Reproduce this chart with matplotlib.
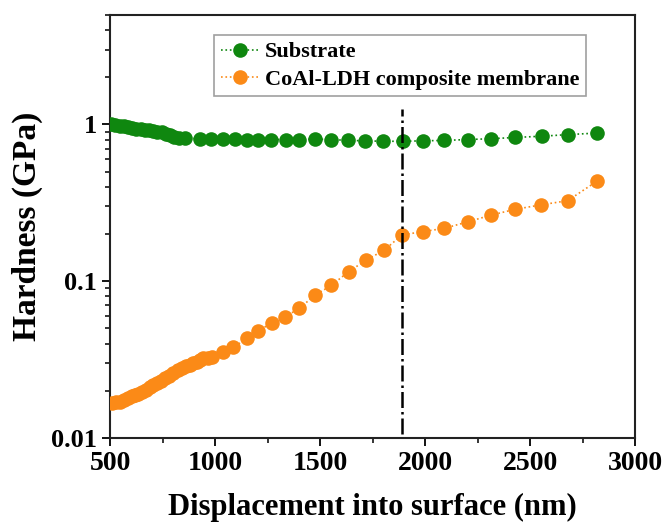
import matplotlib.pyplot as plt
from matplotlib.ticker import MultipleLocator, FixedLocator, FixedFormatter, NullFormatter, LogLocator

plt.rcParams['font.family'] = ['Liberation Serif', 'DejaVu Serif']
plt.rcParams['font.weight'] = 'bold'

# ---- data ----
substrate_x = [505, 525, 545, 565, 585, 605, 625, 645, 665, 685, 705, 725, 745, 765, 785, 805,
               830, 857, 927, 979, 1040, 1093, 1154, 1206, 1267, 1337, 1401, 1476, 1551, 1633,
               1715, 1798, 1894, 1990, 2091, 2205, 2316, 2430, 2555, 2680, 2818]
substrate_h = [1.00, 0.99, 0.98, 0.97, 0.96, 0.95, 0.94, 0.93, 0.92, 0.915, 0.91, 0.90, 0.89, 0.87, 0.85, 0.83,
               0.82, 0.815, 0.81, 0.81, 0.81, 0.805, 0.80, 0.80, 0.80, 0.80, 0.80, 0.805, 0.80, 0.79,
               0.785, 0.78, 0.78, 0.785, 0.79, 0.80, 0.81, 0.825, 0.84, 0.86, 0.88]

membrane_x = [508, 528, 548, 568, 587, 603, 619, 635, 651, 670, 690, 706, 722, 742, 762, 782, 802,
              822, 841, 861, 881, 897, 913, 929, 944, 964, 984, 1040, 1087, 1151, 1206, 1270,
              1333, 1401, 1476, 1554, 1636, 1719, 1806, 1890, 1989, 2090, 2204, 2315, 2428,
              2554, 2679, 2818]
membrane_h = [0.0168, 0.0169, 0.0170, 0.0174, 0.0179, 0.0184, 0.0188, 0.0192, 0.0195, 0.0203, 0.0212,
              0.0218, 0.0223, 0.0231, 0.0240, 0.0250, 0.0261, 0.0271, 0.0281, 0.0287, 0.0292, 0.0299,
              0.0306, 0.0314, 0.0322, 0.0325, 0.0327, 0.0355, 0.0378, 0.0432, 0.0482, 0.0542,
              0.0593, 0.0670, 0.0815, 0.094, 0.115, 0.136, 0.158, 0.197, 0.207, 0.217, 0.239,
              0.264, 0.287, 0.307, 0.326, 0.434]

boundary_x = 1890

green = '#0f870f'
orange = '#fb8a17'

fig = plt.figure(figsize=(6.63, 5.27), dpi=100)
ax = fig.add_axes([0.166, 0.169, 0.792, 0.803])

ax.plot(substrate_x, substrate_h, linestyle=':', linewidth=1.2, color=green, marker='o',
        markersize=10.5, markeredgewidth=0, label='Substrate', zorder=3)
ax.plot(membrane_x, membrane_h, linestyle=':', linewidth=1.2, color=orange, marker='o',
        markersize=10.5, markeredgewidth=0, label='CoAl-LDH composite membrane', zorder=3)
ax.vlines(boundary_x, 0.0106, 1.25, colors='black', linestyles='-.', linewidth=1.8, zorder=4)

ax.set_yscale('log')
ax.set_xlim(500, 3000)
ax.set_ylim(0.01, 5)

ax.xaxis.set_major_locator(MultipleLocator(500))
ax.xaxis.set_minor_locator(MultipleLocator(250))
ax.yaxis.set_major_locator(FixedLocator([0.01, 0.1, 1]))
ax.yaxis.set_major_formatter(FixedFormatter(['0.01', '0.1', '1']))
ax.yaxis.set_minor_locator(LogLocator(base=10, subs=range(2, 10)))
ax.yaxis.set_minor_formatter(NullFormatter())

ax.tick_params(which='major', direction='out', length=6, width=1.3)
ax.tick_params(axis='x', which='major', labelsize=20)
ax.tick_params(axis='y', which='major', labelsize=19)
ax.tick_params(which='minor', direction='out', length=3.5, width=1.1)
for s in ax.spines.values():
    s.set_linewidth(1.5)
    s.set_color('#222222')

ax.set_xlabel('Displacement into surface (nm)', fontsize=22, fontweight='bold', labelpad=12)
ax.set_ylabel('Hardness (GPa)', fontsize=24, fontweight='bold', labelpad=6)

leg = ax.legend(loc='upper left', bbox_to_anchor=(0.198, 0.952), fontsize=16, frameon=True,
                fancybox=False, edgecolor='#888888', borderpad=0.3, labelspacing=0.3,
                handlelength=1.7, handletextpad=0.3, borderaxespad=0)
leg.get_frame().set_linewidth(1.2)

fig.savefig('out.png', dpi=100)
